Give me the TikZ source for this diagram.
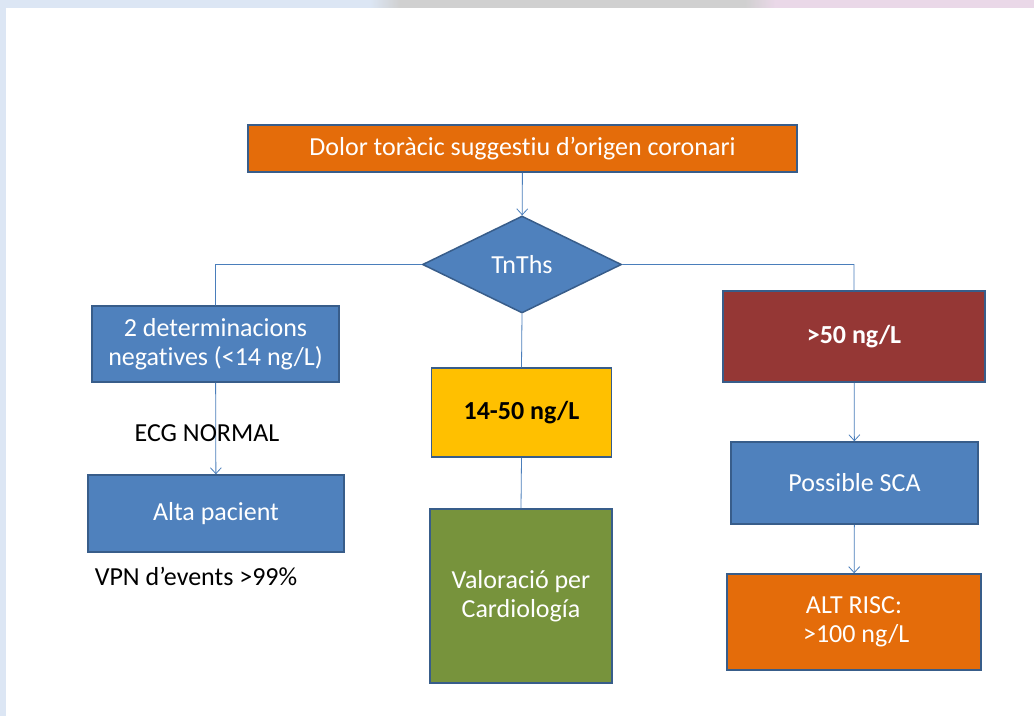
\documentclass[tikz,border=0pt]{standalone}
\usepackage{fontspec}
\setmainfont{Carlito}[Ligatures=NoCommon]
\usepackage{tikz}
\usetikzlibrary{arrows.meta,shapes.geometric}

\definecolor{boxblue}{HTML}{4F81BD}
\definecolor{boxline}{HTML}{385D8A}
\definecolor{arrowblue}{HTML}{4A7EBB}
\definecolor{boxorange}{HTML}{E46C0A}
\definecolor{boxred}{HTML}{953735}
\definecolor{boxyellow}{HTML}{FFC000}
\definecolor{boxgreen}{HTML}{77933C}
\definecolor{pageblue}{HTML}{DCE6F4}
\definecolor{pagegray}{HTML}{D0D0D0}
\definecolor{pagepink}{HTML}{EAD8E8}

\tikzset{
	block/.style={rectangle, draw=boxline, line width=1.5pt, inner sep=0pt, align=center, text=white,
		font=\fontsize{26}{29}\selectfont},
	decision/.style={diamond, draw=boxline, line width=1.5pt, fill=boxblue, inner sep=0pt, text=white,
		font=\fontsize{26}{29}\selectfont},
	note/.style={font=\fontsize{26}{29}\selectfont, align=center}
}

\begin{document}
\begin{tikzpicture}[x=1pt, y=-1pt]
		% page
		\fill[pageblue] (0,0) rectangle (1034,716);
		\fill[pageblue] (0,0) rectangle (370,8);
		\shade[left color=pageblue, right color=pagegray] (370,0) rectangle (400,8);
		\fill[pagegray] (400,0) rectangle (745,8);
		\shade[left color=pagegray, right color=pagepink] (745,0) rectangle (775,8);
		\fill[pagepink] (775,0) rectangle (1034,8);
		\fill[white] (6,8) rectangle (1034,716);
		\useasboundingbox (0,0) rectangle (1034,716);

		\draw
			(522.5,148.5) node [block, fill=boxorange, minimum width=549pt, minimum height=47pt] (dolor) {Dolor toràcic suggestiu d’origen coronari}
			(522,264.5) node [decision, minimum width=199pt, minimum height=97pt] (tnths) {TnThs}
			(215.5,344) node [block, fill=boxblue, minimum width=247pt, minimum height=76pt] (neg) {2 determinacions\\negatives (<14 ng/L)}
			(216,513.5) node [block, fill=boxblue, minimum width=256pt, minimum height=77pt] (alta) {Alta pacient}
			(521.5,412.5) node [block, fill=boxyellow, text=black, minimum width=180pt, minimum height=89pt] (mig) {\textbf{14-50 ng/L}}
			(521,596) node [block, fill=boxgreen, minimum width=182pt, minimum height=174pt] (cardio) {Valoració per\\Cardiología}
			(854,336.5) node [block, fill=boxred, minimum width=262pt, minimum height=91pt] (alt) {\textbf{>50 ng/L}}
			(854.5,483) node [block, fill=boxblue, minimum width=247pt, minimum height=82pt] (sca) {Possible SCA}
			(854,622) node [block, fill=boxorange, minimum width=254pt, minimum height=96pt] (risc) {ALT RISC:\\\,>100 ng/L}
			;

		% connectors
		\draw[arrowblue, line width=0.8pt]
			(tnths.west) -| (neg.north)
			(tnths.east) -| (alt.north)
			(tnths.south) -- (mig.north)
			(mig.south) -- (cardio.north)
			;
		\draw[arrowblue, line width=0.8pt, -{Straight Barb[length=6pt, width=11pt]}]
			(dolor) edge (tnths)
			(neg) edge (alta)
			(alt) edge (sca)
			(sca) edge (risc)
			;

		\node [note] (ecg) at (207,433) {ECG NORMAL};
		\node [note] (vpn) at (196,576) {VPN d’events >99\%};
	\end{tikzpicture}
\end{document}
